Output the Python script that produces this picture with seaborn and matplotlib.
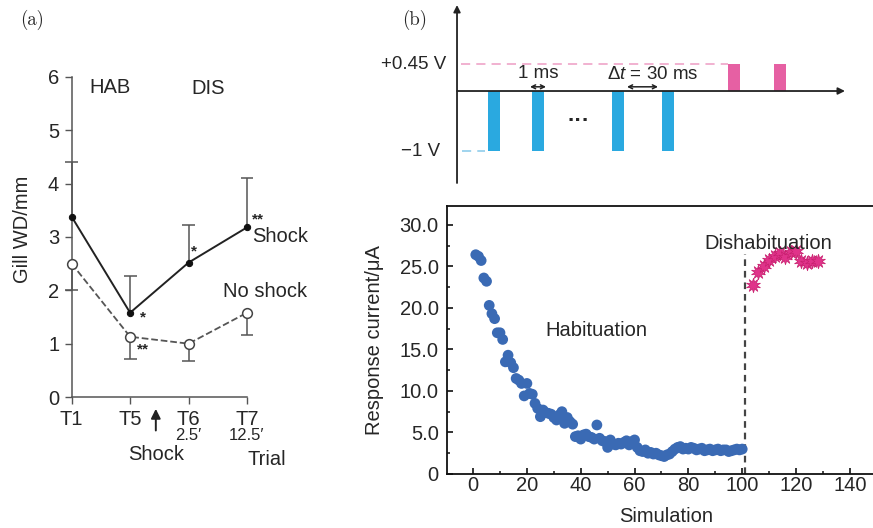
import numpy as np
import matplotlib
matplotlib.use("Agg")
import matplotlib.pyplot as plt
import seaborn as sns

# ---------------- data ----------------
# (a) gill withdrawal duration per trial
trials = ["T1", "T5", "T6", "T7"]
trial_delay = ["", "", "2.5\u2032", "12.5\u2032"]
shock_wd = [3.38, 1.58, 2.52, 3.18]
shock_err = [1.02, 0.69, 0.70, 0.93]
noshock_wd = [2.50, 1.13, 1.00, 1.58]
noshock_err = [0.50, 0.42, 0.32, 0.42]

# (b) pulse scheme (schematic time units)
neg_pulse_start = [31, 75, 155, 205]
pos_pulse_start = [271, 317]
pulse_width = 12
neg_amp = -1.0
pos_amp = 0.45

# (b) response current vs. simulation number
sim_hab = list(range(1, 101))
cur_hab = [26.4, 26.2, 25.7, 23.6, 23.2, 20.3, 19.3, 18.7, 17.0, 17.0,
           16.2, 13.5, 14.3, 13.4, 12.8, 11.5, 11.3, 10.9, 9.4, 10.9,
           9.7, 9.6, 8.5, 7.9, 6.9, 7.7, 7.4, 7.3, 7.2, 6.8,
           6.5, 7.1, 7.5, 6.1, 6.8, 6.3, 6.0, 4.5, 4.6, 4.2,
           4.7, 4.8, 4.5, 4.4, 4.2, 5.9, 4.3, 4.0, 3.9, 3.2,
           4.1, 3.6, 3.5, 3.7, 3.6, 3.8, 4.0, 3.5, 3.9, 4.1,
           3.2, 2.8, 2.7, 2.9, 2.5, 2.6, 2.4, 2.5, 2.3, 2.2,
           2.1, 2.3, 2.4, 2.7, 3.0, 3.2, 3.3, 3.0, 3.1, 3.0,
           3.2, 3.1, 2.9, 3.0, 3.1, 2.8, 2.9, 3.0, 2.8, 2.9,
           3.0, 2.8, 2.9, 2.9, 2.7, 2.8, 2.9, 3.0, 2.9, 3.0]
sim_dis = [104, 106, 108, 110, 112, 114, 116, 118, 120, 122, 124, 126, 128]
cur_dis = [22.7, 24.3, 25.1, 25.8, 26.3, 26.6, 26.1, 26.7, 26.8, 25.7, 25.4, 25.6, 25.7]
switch_at = 101

# ---------------- style ----------------
sns.set_style("ticks")
plt.rcParams["font.family"] = ["Liberation Sans", "DejaVu Sans"]
plt.rcParams["mathtext.fontset"] = "custom"
plt.rcParams["mathtext.rm"] = "Liberation Sans"
plt.rcParams["mathtext.it"] = "Liberation Sans:italic"

FS = 14.5
fig = plt.figure(figsize=(8.73, 5.28), dpi=100)
grey = "#555555"

# ================= panel (a) =================
axA = fig.add_axes([0.0821, 0.2481, 0.2008, 0.6061])
pos = np.arange(len(trials))
shock_hi = np.array(shock_wd) + np.array(shock_err)
noshock_lo = np.array(noshock_wd) - np.array(noshock_err)
cap = 0.11
axA.vlines(pos, shock_wd, shock_hi, color=grey, lw=1.1, zorder=1, clip_on=False)
axA.hlines(shock_hi, pos - cap, pos + cap, color=grey, lw=1.1, zorder=1, clip_on=False)
axA.vlines(pos, noshock_lo, noshock_wd, color=grey, lw=1.1, zorder=1, clip_on=False)
axA.hlines(noshock_lo, pos - cap, pos + cap, color=grey, lw=1.1, zorder=1, clip_on=False)

sns.lineplot(x=pos, y=shock_wd, ax=axA, color="#222222", lw=1.4, marker="o",
             markersize=4.5, markeredgecolor="#111111", markerfacecolor="#111111",
             clip_on=False, zorder=3)
sns.lineplot(x=pos, y=noshock_wd, ax=axA, color="#555555", lw=1.3, linestyle="--",
             marker="o", markersize=7, markerfacecolor="white",
             markeredgecolor="#444444", markeredgewidth=1.1, clip_on=False, zorder=3)

axA.set_xlim(0, 3)
axA.set_ylim(0, 6)
axA.set_xticks(pos)
axA.set_xticklabels(trials)
axA.set_yticks(range(0, 7))
axA.tick_params(axis="both", direction="out", length=5, width=1, color=grey,
                labelsize=FS)
axA.tick_params(axis="y", pad=4)
axA.tick_params(axis="x", pad=4)
for s in ["top", "right"]:
    axA.spines[s].set_visible(False)
for s in ["left", "bottom"]:
    axA.spines[s].set_color(grey)
    axA.spines[s].set_linewidth(1.1)
axA.set_ylabel("Gill WD/mm", fontsize=FS)
axA.yaxis.set_label_coords(-0.226, 0.525)

for xi, d in zip(pos, trial_delay):
    if d:
        axA.text(xi, -0.72, d, ha="center", va="center", fontsize=12, clip_on=False)
axA.text(0.655, 5.81, "HAB", ha="center", va="center", fontsize=FS)
axA.text(2.33, 5.79, "DIS", ha="center", va="center", fontsize=FS)
axA.text(3.57, 3.0, "Shock", ha="center", va="center", fontsize=FS, clip_on=False)
axA.text(3.31, 1.97, "No shock", ha="center", va="center", fontsize=FS, clip_on=False)
axA.text(3.19, 3.33, "**", ha="center", va="center", fontsize=11, fontweight="bold")
axA.text(2.09, 2.72, "*", ha="center", va="center", fontsize=11, fontweight="bold")
axA.text(1.22, 1.50, "*", ha="center", va="center", fontsize=11, fontweight="bold")
axA.text(1.22, 0.90, "**", ha="center", va="center", fontsize=11, fontweight="bold")
axA.annotate("", xy=(1.44, -0.17), xytext=(1.44, -0.68), xycoords="data",
             arrowprops=dict(arrowstyle="-|>", color="#222222", lw=1.4,
                             mutation_scale=14), annotation_clip=False)
axA.text(1.44, -1.07, "Shock", ha="center", va="center", fontsize=FS, clip_on=False)
axA.text(3.34, -1.18, "Trial", ha="center", va="center", fontsize=FS, clip_on=False)

fig.text(32 / 873, 1 - 20 / 528, "(a)", ha="center", va="center",
         fontsize=13.5, family="cmr10")
fig.text(415 / 873, 1 - 20 / 528, "(b)", ha="center", va="center",
         fontsize=13.5, family="cmr10")

# ================= panel (b) scheme =================
axS = fig.add_axes([0.5235, 0.6534, 0.4444, 0.3371])
axS.set_xlim(0, 388)
axS.set_ylim(-1.533, 1.433)
axS.axis("off")
axS.bar(neg_pulse_start, [neg_amp] * len(neg_pulse_start), width=pulse_width,
        align="edge", color="#2AA9E0", linewidth=0)
axS.bar(pos_pulse_start, [pos_amp] * len(pos_pulse_start), width=pulse_width,
        align="edge", color="#E660A3", linewidth=0)
axS.plot([4, pos_pulse_start[0]], [pos_amp, pos_amp], color="#EE9CC4",
         lw=1.1, dashes=(6, 4))
axS.plot([5, neg_pulse_start[0] - 3], [neg_amp, neg_amp], color="#86C9EA",
         lw=1.1, dashes=(6, 4))
axS.annotate("", xy=(0, 1.0), xytext=(0, 0), xycoords="axes fraction",
             arrowprops=dict(arrowstyle="-|>", color="#222222", lw=1.3,
                             mutation_scale=10, shrinkA=0, shrinkB=0))
axS.annotate("", xy=(388, 0), xytext=(0, 0), xycoords="data",
             arrowprops=dict(arrowstyle="-|>", color="#222222", lw=1.3,
                             mutation_scale=10, shrinkA=0, shrinkB=0))
axS.text(-11, pos_amp, "+0.45 V", ha="right", va="center", fontsize=13.5)
axS.text(-17, neg_amp, "\u22121 V", ha="right", va="center", fontsize=13.5)

a0 = neg_pulse_start[1] - 2
a1 = neg_pulse_start[1] + pulse_width + 2
axS.annotate("", xy=(a0, 0.07), xytext=(a1, 0.07),
             arrowprops=dict(arrowstyle="<->", color="#222222", lw=1.1,
                             mutation_scale=7, shrinkA=0, shrinkB=0))
axS.text((a0 + a1) / 2, 0.30, "1 ms", ha="center", va="center", fontsize=13.5)
b0 = neg_pulse_start[2] + pulse_width + 3
b1 = neg_pulse_start[3] - 4
axS.annotate("", xy=(b0, 0.07), xytext=(b1, 0.07),
             arrowprops=dict(arrowstyle="<->", color="#222222", lw=1.1,
                             mutation_scale=7, shrinkA=0, shrinkB=0))
axS.text(196, 0.28, "\u0394$t$ = 30 ms", ha="center", va="center", fontsize=13.5)
axS.text(122, -0.50, "\u00b7\u00b7\u00b7", ha="center", va="center",
         fontsize=16, fontweight="bold")

# ================= panel (b) response =================
axB = fig.add_axes([0.512, 0.1023, 0.488, 0.5081])
sns.scatterplot(x=sim_hab, y=cur_hab, ax=axB, color="#3A6AB4", s=60,
                edgecolor="none", zorder=3)
sns.scatterplot(x=sim_dis, y=cur_dis, ax=axB, color="#E0338A", s=110,
                marker=(10, 1, 0), edgecolor="#C8206F", linewidth=0.5, zorder=3)
axB.plot([switch_at, switch_at], [0, 26.5], color="#444444", lw=1.6,
         dashes=(3, 2.2), zorder=2)

axB.set_xlim(-9.7, 148.6)
axB.set_ylim(0, 32.3)
axB.set_xticks(range(0, 141, 20))
axB.set_xticks(range(10, 150, 20), minor=True)
yt = [0, 5, 10, 15, 20, 25, 30]
axB.set_yticks(yt)
axB.set_yticklabels(["0"] + [f"{v:.1f}" for v in yt[1:]])
axB.set_yticks(np.arange(2.5, 32, 5), minor=True)
axB.tick_params(axis="both", which="major", direction="in", length=4, width=1.2,
                labelsize=FS, color="#111111")
axB.tick_params(axis="both", which="minor", direction="in", length=2.5, width=1.1,
                color="#111111")
axB.tick_params(axis="y", pad=6)
axB.tick_params(axis="x", pad=1.5)
axB.spines["right"].set_visible(False)
for s in ["left", "bottom", "top"]:
    axB.spines[s].set_color("#111111")
    axB.spines[s].set_linewidth(1.3)
axB.set_xlabel("Simulation", fontsize=FS)
axB.xaxis.set_label_coords(0.514, -0.122)
axB.set_ylabel("Response current/\u03bcA", fontsize=FS)
axB.yaxis.set_label_coords(-0.148, 0.50)
axB.text(45.8, 17.3, "Habituation", ha="center", va="center", fontsize=FS)
axB.text(109.7, 27.8, "Dishabituation", ha="center", va="center", fontsize=FS)

fig.savefig("out.png", dpi=100)
